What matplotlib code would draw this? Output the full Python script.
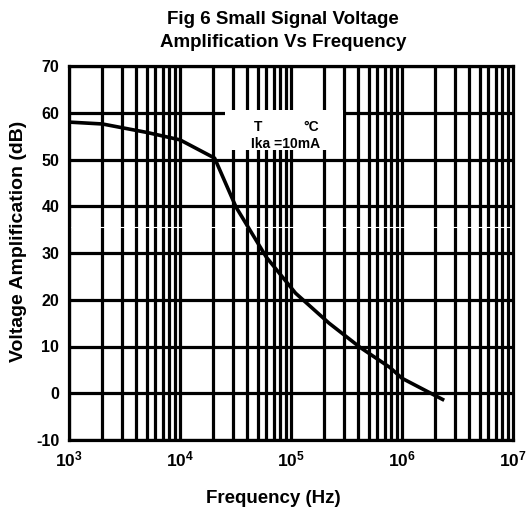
import matplotlib
matplotlib.use("Agg")
import matplotlib.pyplot as plt
import numpy as np
from matplotlib.patches import Rectangle

freq = [1e3, 2e3, 5e3, 1e4, 2.05e4, 3.2e4, 6e4, 1.1e5, 2.2e5, 4.2e5, 7.8e5, 1e6, 2.4e6]
gain = [58.0, 57.6, 55.8, 54.2, 50.3, 39.8, 29.1, 21.4, 15.0, 9.8, 5.5, 3.2, -1.5]
yticks = [-10, 0, 10, 20, 30, 40, 50, 60, 70]
xticks = [1e3, 1e4, 1e5, 1e6, 1e7]
xtick_labels = [r"$\mathbf{10^{3}}$", r"$\mathbf{10^{4}}$", r"$\mathbf{10^{5}}$",
                r"$\mathbf{10^{6}}$", r"$\mathbf{10^{7}}$"]

plt.rcParams['font.family'] = ['Liberation Sans', 'DejaVu Sans']
plt.rcParams['mathtext.fontset'] = 'custom'
plt.rcParams['mathtext.rm'] = 'Liberation Sans'
plt.rcParams['mathtext.bf'] = 'Liberation Sans:bold'

fig = plt.figure(figsize=(5.31, 5.07), dpi=100)
ax = fig.add_axes([69/531, 1-440/507, (513-69)/531, (440-66)/507])
ax.set_xscale('log')
ax.set_xlim(1e3, 1e7)
ax.set_ylim(-10, 70)

lw = 2.3
# grid
for dec in range(3, 7):
    for m in range(1, 10):
        ax.axvline(m * 10**dec, color='black', lw=lw, zorder=1)
for yv in yticks:
    ax.axhline(yv, color='black', lw=lw, zorder=1)

# white box behind annotation
ax.add_patch(Rectangle((2.55e4, 52.0), 2.95e5 - 2.55e4, 8.6, facecolor='white',
                       edgecolor='none', zorder=2))
# scan artefact hairline
ax.axhline(35.5, color='white', lw=0.8, zorder=2)

ax.plot(freq, gain, color='black', lw=2.6, zorder=4, solid_capstyle='butt')

ax.text(5.0e4, 57.0, "T", ha='center', va='center', fontsize=10, fontweight='bold', zorder=5)
ax.text(1.52e5, 57.0, "\u00b0C", ha='center', va='center', fontsize=10, fontweight='bold', zorder=5)
ax.text(8.9e4, 53.3, "Ika =10mA", ha='center', va='center', fontsize=10, fontweight='bold', zorder=5)

ax.set_xticks(xticks)
ax.set_xticklabels(xtick_labels, fontsize=12.5)
ax.xaxis.set_minor_locator(matplotlib.ticker.NullLocator())
ax.set_yticks(yticks)
ax.set_yticklabels([str(v) for v in yticks], fontsize=11.5, fontweight='bold')
ax.tick_params(length=0, pad=7)

for s in ax.spines.values():
    s.set_linewidth(lw)
    s.set_zorder(3)

ax.set_xlabel("Frequency (Hz)", fontsize=13.5, fontweight='bold', labelpad=12)
ax.xaxis.set_label_coords((273-69)/(513-69), -0.135)
ax.set_ylabel("Voltage Amplification (dB)", fontsize=14, fontweight='bold', labelpad=6)
ax.yaxis.set_label_coords(-0.095, (440-241)/(440-66))
fig.text(283/531, 1-31/507, "Fig 6 Small Signal Voltage\nAmplification Vs Frequency",
         ha='center', va='center', fontsize=13.5, fontweight='bold', linespacing=1.4)

fig.savefig("out.png", dpi=100)
